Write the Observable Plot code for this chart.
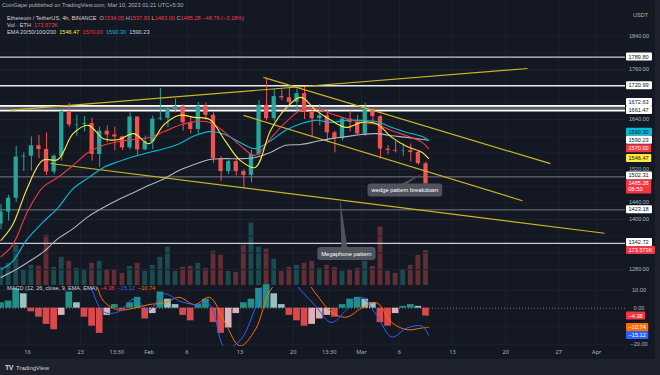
<!DOCTYPE html>
<html><head><meta charset="utf-8">
<script src="https://cdn.jsdelivr.net/npm/d3@7"></script>
<script src="https://cdn.jsdelivr.net/npm/@observablehq/plot@0.6"></script>
<style>
html,body{margin:0;padding:0;background:#1e222d;}
#root{position:relative;width:660px;height:375px;overflow:hidden;background:#1e222d;font-family:"Liberation Sans",Arial,sans-serif;}
#chart{position:absolute;left:0;top:0;width:655px;height:359px;background:#141823;}
.pane{position:absolute;left:0;}
.hdr{position:absolute;white-space:pre;font-size:5.6px;line-height:7px;color:#b2b5be;}
svg{overflow:visible;}
</style></head>
<body><div id="root"><div id="chart">
<div class="pane" id="vol" style="top:0"></div>
<div class="pane" id="price" style="top:0"></div>
<div class="pane" id="macd" style="top:287px"></div>
</div>
<div class="hdr" style="left:2px;top:2px;color:#b2b5be">CoinGape published on TradingView.com, Mar 10, 2023 01:21 UTC+5:30</div>
<div class="hdr" id="h2" style="left:7px;top:15px"></div>
<div class="hdr" id="h3" style="left:7px;top:22px"></div>
<div class="hdr" id="h4" style="left:7px;top:29px"></div>
<div class="hdr" id="h5" style="left:7px;top:285px"></div>
<div class="hdr" style="left:633px;top:12px;color:#b2b5be">USDT</div>
<div class="hdr" style="left:5px;top:364px;font-size:7px;font-weight:bold;color:#d1d4dc;letter-spacing:-0.5px">TV</div>
<div class="hdr" style="left:16px;top:364.5px;font-size:6px;color:#d1d4dc">TradingView</div>
</div>
<script>
// ---------------- DATA ----------------
const candleDates = ["2023-01-12","2023-01-13","2023-01-14","2023-01-15","2023-01-16","2023-01-17","2023-01-18","2023-01-19","2023-01-20","2023-01-21",
"2023-01-22","2023-01-23","2023-01-24","2023-01-25","2023-01-26","2023-01-27","2023-01-28","2023-01-29","2023-01-30","2023-01-31",
"2023-02-01","2023-02-02","2023-02-03","2023-02-04","2023-02-05","2023-02-06","2023-02-07","2023-02-08","2023-02-09","2023-02-10",
"2023-02-11","2023-02-12","2023-02-13","2023-02-14","2023-02-15","2023-02-16","2023-02-17","2023-02-18","2023-02-19","2023-02-20",
"2023-02-21","2023-02-22","2023-02-23","2023-02-24","2023-02-25","2023-02-26","2023-02-27","2023-02-28",
"2023-03-01","2023-03-02","2023-03-03","2023-03-04","2023-03-05","2023-03-06","2023-03-07","2023-03-08","2023-03-09"];
const opens  = [1389,1418,1451,1550,1552,1577,1568,1514,1552,1659, 1627,1628,1630,1556,1612,1603,1598,1572,1646,1567,
                1586,1641,1643,1665,1671,1632,1616,1672,1650,1546, 1515,1539,1515,1506,1556,1674,1642,1695,1692,1681,
                1702,1659,1642,1649,1608,1594,1641,1633, 1605,1663,1647,1569,1566,1564,1565,1561,1534.05];
const highs  = [1436,1458,1575,1560,1598,1602,1608,1555,1665,1679, 1650,1647,1643,1622,1625,1622,1600,1656,1646,1600,
                1648,1714,1668,1689,1675,1645,1681,1679,1656,1551, 1542,1545,1520,1567,1686,1736,1712,1711,1721,1713,
                1718,1663,1676,1662,1612,1645,1660,1650, 1679,1667,1650,1577,1587,1581,1581,1565,1537.83];
const lows   = [1376,1396,1441,1515,1516,1546,1506,1508,1540,1621, 1600,1610,1540,1525,1584,1565,1566,1567,1554,1565,
                1568,1637,1621,1656,1612,1605,1605,1637,1535,1492, 1508,1505,1474,1488,1552,1637,1635,1685,1675,1659,
                1640,1597,1625,1585,1560,1589,1610,1603, 1600,1630,1545,1555,1560,1552,1538,1530,1483.00];
const closes = [1418,1451,1550,1552,1577,1568,1514,1552,1659,1627, 1628,1630,1556,1612,1603,1598,1572,1646,1567,1586,
                1641,1643,1665,1671,1632,1616,1672,1650,1546,1515, 1539,1515,1506,1556,1674,1642,1695,1692,1681,1702,
                1659,1642,1649,1608,1594,1641,1633,1605, 1663,1647,1569,1566,1564,1565,1561,1534,1485.28];
const volumesK = [90,110,200,80,100,95,250,90,140,120, 85,80,110,120,80,75,60,95,110,70,
                  100,140,190,70,90,95,110,85,170,150, 70,65,200,310,190,180,130,70,90,100,
                  110,120,85,100,90,70,80,85, 120,95,290,70,60,80,100,150,173.573];
const macdHist = [3,4,11,8,-2,-5,-9,-12,-4,9, 3,-5,-10,-14,-4,2,-1,3,6,-6,
                  -3,9,5,2,-4,-7,2,5,-8,-14, -11,-3,3,5,11,13,8,2,-4,-7,
                  -10,-9,-6,-4,-5,2,5,6, 5,3,-8,-10,-3,1,2,1,-4.38];

const emaDates = ["2023-01-12T12:00Z","2023-01-14","2023-01-16","2023-01-18","2023-01-20","2023-01-22","2023-01-24","2023-01-26","2023-01-28","2023-01-30",
"2023-02-01","2023-02-03","2023-02-05","2023-02-07","2023-02-09","2023-02-11","2023-02-13","2023-02-15","2023-02-17","2023-02-19",
"2023-02-21","2023-02-23","2023-02-25","2023-02-27","2023-03-01","2023-03-03","2023-03-05","2023-03-07","2023-03-09","2023-03-09T20:00Z"];
const ema20  = [1350,1386,1477,1542,1544,1606,1626,1594,1592,1606, 1582,1628,1650,1645,1640,1590,1542,1525,1613,1666, 1693,1662,1638,1621,1633,1630,1597,1575,1561,1546.47];
const ema50  = [1311,1338,1419,1477,1501,1530,1561,1578,1587,1592, 1597,1611,1626,1635,1633,1609,1578,1554,1594,1633, 1662,1666,1654,1642,1633,1628,1613,1601,1585,1570.00];
const ema100 = [1280,1299,1354,1393,1428,1474,1500,1525,1539,1551, 1561,1570,1582,1601,1611,1604,1585,1570,1589,1614, 1630,1638,1633,1638,1638,1635,1621,1609,1599,1590.30];
const ema200 = [1261,1275,1297,1321,1354,1378,1407,1429,1448,1465, 1482,1498,1518,1532,1544,1546,1546,1549,1561,1578, 1580,1587,1594,1599,1604,1606,1601,1597,1592,1590.23];
const macdLine   = [30,38,32,22,22,30,15,-2,-2,5, -1,8,4,2,2,-22,-18,0,22,20, 10,1,-8,-1,6,-4,-16,-11,-10,-15.12];
const signalLine = [25,28,33,30,26,26,24,4,-1,0, 2,3,6,2,6,-8,-21,-12,10,18, 18,8,-2,-5,0,3,-8,-12,-11,-10.74];

const levelPrices = [1789.80, 1720.99, 1672.63, 1661.47, 1502.31, 1423.18, 1342.72];
const trendStartDates  = ["2023-01-13T18:00Z","2023-01-19T00:30Z","2023-02-16T02:00Z","2023-02-13T11:00Z"];
const trendStartPrices = [1662.6, 1534.4, 1741, 1650];
const trendEndDates    = ["2023-03-22T21:00Z","2023-04-02T00:30Z","2023-03-25T21:30Z","2023-03-22T05:00Z"];
const trendEndPrices   = [1762.4, 1367, 1534, 1445];

const calloutTexts       = ["wedge pattern breakdown", "Megaphone pattern"];
const calloutBoxDates    = ["2023-03-06T19:00Z", "2023-02-27T02:00Z"];
const calloutBoxPrices   = [1469.6, 1317];
const calloutTipDates    = ["2023-03-09T04:00Z", "2023-02-26T05:30Z"];
const calloutTipPrices   = [1510, 1450.4];

const dateTicks = ["2023-01-16","2023-01-23","2023-01-27T18:00Z","2023-02-01","2023-02-06","2023-02-13","2023-02-20","2023-02-24T18:00Z","2023-03-01","2023-03-06","2023-03-13","2023-03-20","2023-03-27","2023-04-01"];
const dateTickLabels = ["16","23","13:30","Feb","6","13","20","13:30","Mar","6","13","20","27","Apr"];
const priceTicks = [1280,1320,1360,1400,1440,1480,1520,1560,1600,1640,1680,1720,1760,1800,1840];
const macdTicks = [10,0,-10,-20];

const lastValues = {ema20:"1546.47", ema50:"1570.00", ema100:"1590.30", ema200:"1590.23", vol:"173.573K", countdown:"08:50",
  open:"1534.05", high:"1537.83", low:"1483.00", close:"1485.28", change:"−48.76 (−3.18%)", hist:"−4.38", macd:"−15.12", signal:"−10.74"};

// ---------------- SETUP ----------------
const DAY = 864e5;
const UP = "#26a69a", DOWN = "#ef5350", GRID = "#1d2130", TXT = "#b2b5be";
const C20 = "#ffeb3b", C50 = "#f23645", C100 = "#00bcd4", C200 = "#b2b5be", TREND = "#c8b521";
const xDomain = [new Date(Date.UTC(2023,0,12,10,22)), new Date(Date.UTC(2023,3,4,19,0))];
const W = 655, PR = 30;
const num = s => +s.replace("−","-");

const candles = candleDates.map((d,i)=>{const t=+new Date(d);return {date:new Date(t), mid:new Date(t+DAY/2),
  b1:new Date(t+0.22*DAY), b2:new Date(t+0.78*DAY), v1:new Date(t+0.18*DAY), v2:new Date(t+0.82*DAY), h1:new Date(t+0.06*DAY), h2:new Date(t+0.94*DAY),
  open:opens[i], high:highs[i], low:lows[i], close:closes[i], vol:volumesK[i], hist:macdHist[i], up:closes[i]>=opens[i]};});
candles.forEach((c,i)=>{const p=i>0?candles[i-1].hist:c.hist;
  c.hcol = c.hist>=0 ? (c.hist>=p?"#26a69a":"#b2dfdb") : (c.hist<=p?"#ff5252":"#ffcdd2");});
const emaRows = [];
[["ema200",ema200,C200],["ema100",ema100,C100],["ema50",ema50,C50],["ema20",ema20,C20]].forEach(([k,arr,col])=>
  emaDates.forEach((d,i)=>emaRows.push({key:k,date:new Date(d),v:arr[i],col})));
const macdRows = [];
[["signal",signalLine,"#ff6d00"],["macd",macdLine,"#2962ff"]].forEach(([k,arr,col])=>
  emaDates.forEach((d,i)=>macdRows.push({key:k,date:new Date(d),v:arr[i],col})));
const trends = trendStartDates.map((d,i)=>({x1:new Date(d),y1:trendStartPrices[i],x2:new Date(trendEndDates[i]),y2:trendEndPrices[i]}));
const tickRows = dateTicks.map((d,i)=>({date:new Date(d),label:dateTickLabels[i]}));
const levelStroke = ["#c9ccd4","#e6e8ee","#ffffff","#ffffff","#787b86","#787b86","#c9ccd4"];
const levelWidth  = [1.2,1.3,1.8,1.8,1,1,1.4];
const levelRows = levelPrices.map((p,i)=>({p,stroke:levelStroke[i],w:levelWidth[i]}));

// ---------------- VOLUME ----------------
const volPlot = Plot.plot({width:W,height:287,marginLeft:0,marginRight:PR,marginTop:0,marginBottom:2,
  x:{type:"utc",domain:xDomain,axis:null}, y:{domain:[0,1413.4],axis:null},
  style:{background:"transparent"},
  marks:[Plot.rect(candles,{x1:"v1",x2:"v2",y1:0,y2:"vol",fill:d=>d.up?UP:DOWN,fillOpacity:0.36})]});
document.getElementById("vol").append(volPlot);

// ---------------- PRICE ----------------
const pricePlot = Plot.plot({width:W,height:287,marginLeft:0,marginRight:PR,marginTop:0,marginBottom:0,
  x:{type:"utc",domain:xDomain,axis:null}, y:{domain:[1236.8,1925.6],axis:null},
  style:{background:"transparent"},
  marks:[
    Plot.ruleY(priceTicks,{stroke:GRID}),
    Plot.ruleX(tickRows,{x:"date",stroke:GRID}),
    Plot.rect([levelPrices],{y1:d=>d[3],y2:d=>d[2],fill:"#8a8d97",fillOpacity:0.55}),
    Plot.ruleY(levelRows,{y:"p",stroke:d=>d.stroke,strokeWidth:d=>d.w}),
    Plot.ruleX(candles,{x:"mid",y1:"low",y2:"high",stroke:d=>d.up?UP:DOWN,strokeWidth:1}),
    Plot.rect(candles,{x1:"b1",x2:"b2",y1:"open",y2:"close",fill:d=>d.up?UP:DOWN}),
    Plot.link(trends,{x1:"x1",y1:"y1",x2:"x2",y2:"y2",stroke:TREND,strokeWidth:1.2}),
    Plot.line(emaRows,{x:"date",y:"v",z:"key",stroke:"col",strokeWidth:1.1,curve:"catmull-rom"})
  ]});
document.getElementById("price").append(pricePlot);

// ---------------- MACD ----------------
const macdPlot = Plot.plot({width:W,height:72,marginLeft:0,marginRight:PR,marginTop:0,marginBottom:13,
  x:{type:"utc",domain:xDomain,axis:null}, y:{domain:[-21.3,11.5],axis:null},
  style:{background:"transparent"},
  marks:[
    Plot.ruleY(macdTicks.filter(v=>v!==0),{stroke:GRID}),
    Plot.ruleX(tickRows,{x:"date",stroke:GRID}),
    Plot.ruleY([0],{stroke:"#787b86",strokeDasharray:"1,2"}),
    Plot.rect(candles,{x1:"h1",x2:"h2",y1:0,y2:"hist",fill:"hcol",fillOpacity:0.85}),
    Plot.line(macdRows,{x:"date",y:"v",z:"key",stroke:"col",strokeWidth:1,curve:"catmull-rom",clip:true}),
    Plot.text(tickRows,{x:"date",text:"label",frameAnchor:"bottom",dy:7.5,fill:TXT,fontSize:5.6})
  ]});
document.getElementById("macd").append(macdPlot);

// ---------------- AXES / BADGES ----------------
function drawAxis(svg, ticks, badges){
  const g = d3.select(svg).append("g").attr("font-family","Liberation Sans, Arial, sans-serif").attr("font-size",5.6).attr("text-anchor","start");
  badges.forEach(b=>{b.up=4; b.down=b.sub?10:4;});
  const ord = badges.slice().sort((a,b)=>b.c-a.c);
  let prevTop = Infinity;
  ord.forEach(b=>{ if(b.c+b.down>prevTop) b.c=prevTop-b.down; prevTop=b.c-b.up; });
  ticks.forEach(t=>{
    const hidden = badges.some(b=> t.py > b.c-b.up-2.4 && t.py < b.c+b.down+2.4);
    if(!hidden) g.append("text").attr("x",W-PR+14).attr("y",t.py).attr("dy","0.35em").attr("text-anchor","middle").attr("fill",TXT).text(t.label);
  });
  badges.forEach(b=>{
    const r = g.append("rect").attr("x",W-PR+1).attr("y",b.c-b.up).attr("height",b.up+b.down).attr("rx",1).attr("fill",b.bg);
    const t = g.append("text").attr("x",W-PR+3.5).attr("y",b.c).attr("dy","0.35em").attr("fill",b.fg).text(b.label);
    const w = t.node().getComputedTextLength();
    if(b.sub) g.append("text").attr("x",W-PR+3.5).attr("y",b.c+6).attr("dy","0.35em").attr("fill",b.fg).text(b.sub);
    r.attr("width", Math.max(w+5, b.minw||0));
  });
}
const yP = pricePlot.scale("y"), yV = volPlot.scale("y"), yM = macdPlot.scale("y");
const WHITE="#ffffff", DARK="#131722";
drawAxis(pricePlot,
  priceTicks.map(t=>({py:yP.apply(t),label:t.toFixed(2)})),
  [
    ...levelPrices.map(p=>({c:yP.apply(p),label:p.toFixed(2),bg:WHITE,fg:DARK,minw:26})),
    {c:yP.apply(num(lastValues.ema100)),label:lastValues.ema100,bg:C100,fg:DARK,minw:26},
    {c:yP.apply(num(lastValues.ema200)),label:lastValues.ema200,bg:WHITE,fg:DARK,minw:26},
    {c:yP.apply(num(lastValues.ema50)),label:lastValues.ema50,bg:C50,fg:WHITE,minw:25},
    {c:yP.apply(num(lastValues.ema20)),label:lastValues.ema20,bg:C20,fg:DARK,minw:25},
    {c:yP.apply(num(lastValues.close)),label:lastValues.close,bg:"#f23645",fg:WHITE,sub:lastValues.countdown},
    {c:yV.apply(volumesK[volumesK.length-1]),label:lastValues.vol,bg:"#f23645",fg:WHITE}
  ]);
drawAxis(macdPlot,
  macdTicks.map(t=>({py:yM.apply(t),label:(t<0?"−":"")+Math.abs(t).toFixed(2)})),
  [
    {c:yM.apply(num(lastValues.hist)),label:lastValues.hist,bg:"#f23645",fg:WHITE},
    {c:yM.apply(num(lastValues.signal)),label:lastValues.signal,bg:"#ff6d00",fg:WHITE},
    {c:yM.apply(num(lastValues.macd)),label:lastValues.macd,bg:"#2962ff",fg:WHITE}
  ]);

// ---------------- CALLOUTS ----------------
const xP = pricePlot.scale("x");
const cg = d3.select(pricePlot).append("g").attr("font-family","Liberation Sans, Arial, sans-serif").attr("font-size",5.8);
calloutTexts.forEach((txt,i)=>{
  const bx = xP.apply(new Date(calloutBoxDates[i])), by = yP.apply(calloutBoxPrices[i]);
  const tx = xP.apply(new Date(calloutTipDates[i])), ty = yP.apply(calloutTipPrices[i]);
  const tail = cg.append("path").attr("fill","#50535e");
  const rect = cg.append("rect").attr("fill","#50535e").attr("rx",3);
  const t = cg.append("text").attr("x",bx).attr("y",by).attr("dy","0.35em").attr("text-anchor","middle").attr("fill","#ffffff").text(txt);
  const w = t.node().getComputedTextLength()+8, h = 13;
  rect.attr("x",bx-w/2).attr("y",by-h/2).attr("width",w).attr("height",h);
  const baseX = bx - 2, top = by-h/2+1;
  tail.attr("d",`M${tx},${ty}L${baseX-3},${top}L${baseX+3},${top}Z`);
});

// ---------------- HEADER ----------------
const red = s=>`<span style="color:#f23645">${s}</span>`;
document.getElementById("h2").innerHTML = `<span style="color:#d1d4dc">Ethereum / TetherUS, 4h, BINANCE</span>  O${red(lastValues.open)} H${red(lastValues.high)} L${red(lastValues.low)} C${red(lastValues.close)} ${red(lastValues.change)}`;
document.getElementById("h3").innerHTML = `<span style="color:#d1d4dc">Vol · ETH</span>  ${red(lastValues.vol)}`;
document.getElementById("h4").innerHTML = `<span style="color:#d1d4dc">EMA 20/50/100/200</span>  <span style="color:${C20}">${lastValues.ema20}</span>  <span style="color:${C50}">${lastValues.ema50}</span>  <span style="color:${C100}">${lastValues.ema100}</span>  <span style="color:#d1d4dc">${lastValues.ema200}</span>`;
document.getElementById("h5").innerHTML = `<span style="color:#d1d4dc">MACD (12, 26, close, 9, EMA, EMA)</span>  ${red(lastValues.hist)}  <span style="color:#2962ff">${lastValues.macd}</span>  <span style="color:#ff6d00">${lastValues.signal}</span>`;
</script>
</body></html>
